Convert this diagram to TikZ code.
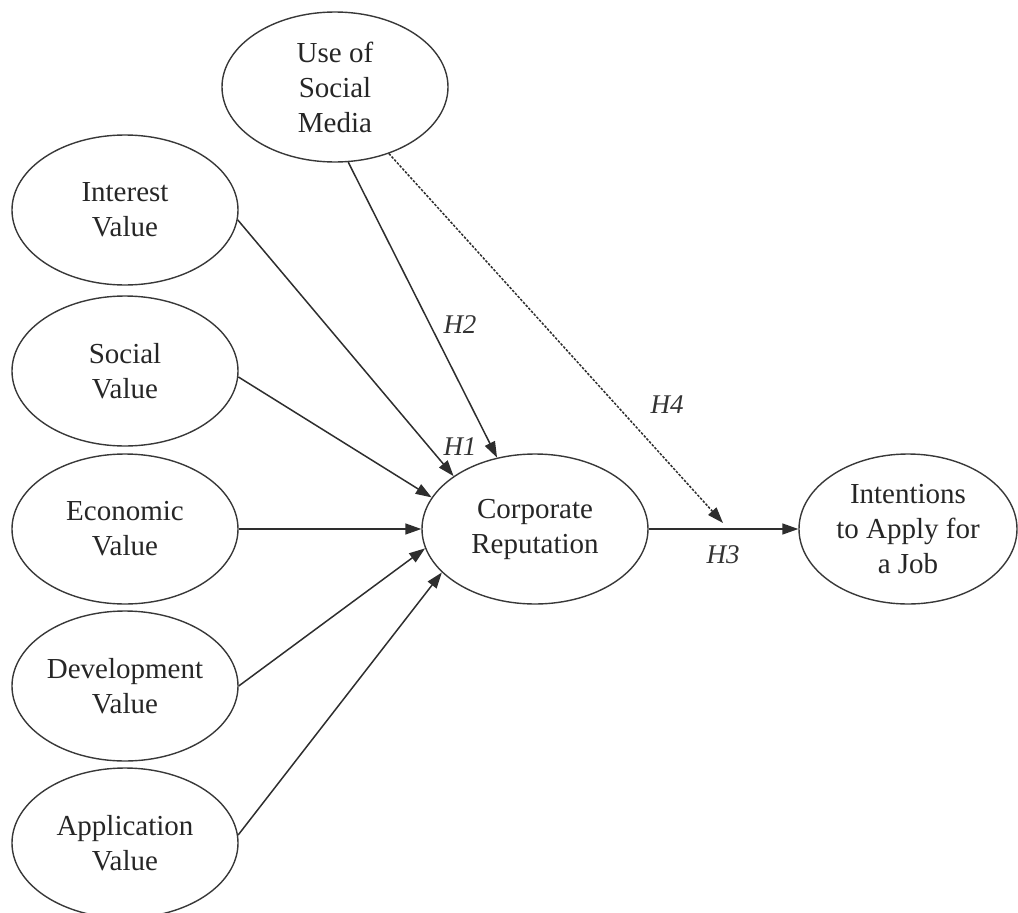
\documentclass[tikz,border=0pt]{standalone}
\usepackage{fontspec}
\setmainfont{Liberation Serif}
\usetikzlibrary{shapes.geometric,arrows.meta}
\begin{document}
\begin{tikzpicture}[x=1pt,y=-1pt,
  construct/.style={ellipse,draw=black!78,line width=1.4pt,minimum width=226pt,
    minimum height=150pt,inner sep=0pt,align=center,text=black!85,
    font=\fontsize{29}{35}\selectfont},
  link/.style={draw=black!82,line width=1.5pt,-{Triangle[length=16pt,width=11pt]}},
  dashedlink/.style={link,dash pattern=on 2.5pt off 1.5pt},
  hyp/.style={font=\fontsize{27}{32}\selectfont\itshape,text=black!80}
]
\useasboundingbox (0,0) rectangle (1018,913);

% constructs
\node[construct] (use) at (335,87) {Use of\\Social\\Media};
\node[construct] (interest) at (125,210) {Interest\\Value};
\node[construct] (social) at (125,371) {Social\\Value};
\node[construct] (economic) at (125,529) {Economic\\Value};
\node[construct] (development) at (125,686) {Development\\Value};
\node[construct] (application) at (125,843) {Application\\Value};
\node[construct] (corp) at (535,529) {Corporate\\Reputation};
\node[construct,minimum width=218pt] (intent) at (908,529) {Intentions\\to Apply for\\a Job};

% paths into corporate reputation
\draw[link] (interest.-5) -- (corp.147);
\draw[link] (social.-3) -- (corp.163);
\draw[link] (economic.east) -- (corp.west);
\draw[link] (development.0) -- (corp.190);
\draw[link] (application.4) -- (corp.205);
\draw[link] (use.-80) -- (corp.118);

% outcome path and moderation
\draw[link] (corp.east) -- (intent.west);
\coordinate (modtip) at (723,523);
\draw[dashedlink] (use.-51) -- (modtip);

% hypothesis labels
\node[hyp] (h1) at (460,447) {H1};
\node[hyp] (h2) at (460,325) {H2};
\node[hyp] (h3) at (723,555) {H3};
\node[hyp] (h4) at (667,405) {H4};
\end{tikzpicture}
\end{document}
